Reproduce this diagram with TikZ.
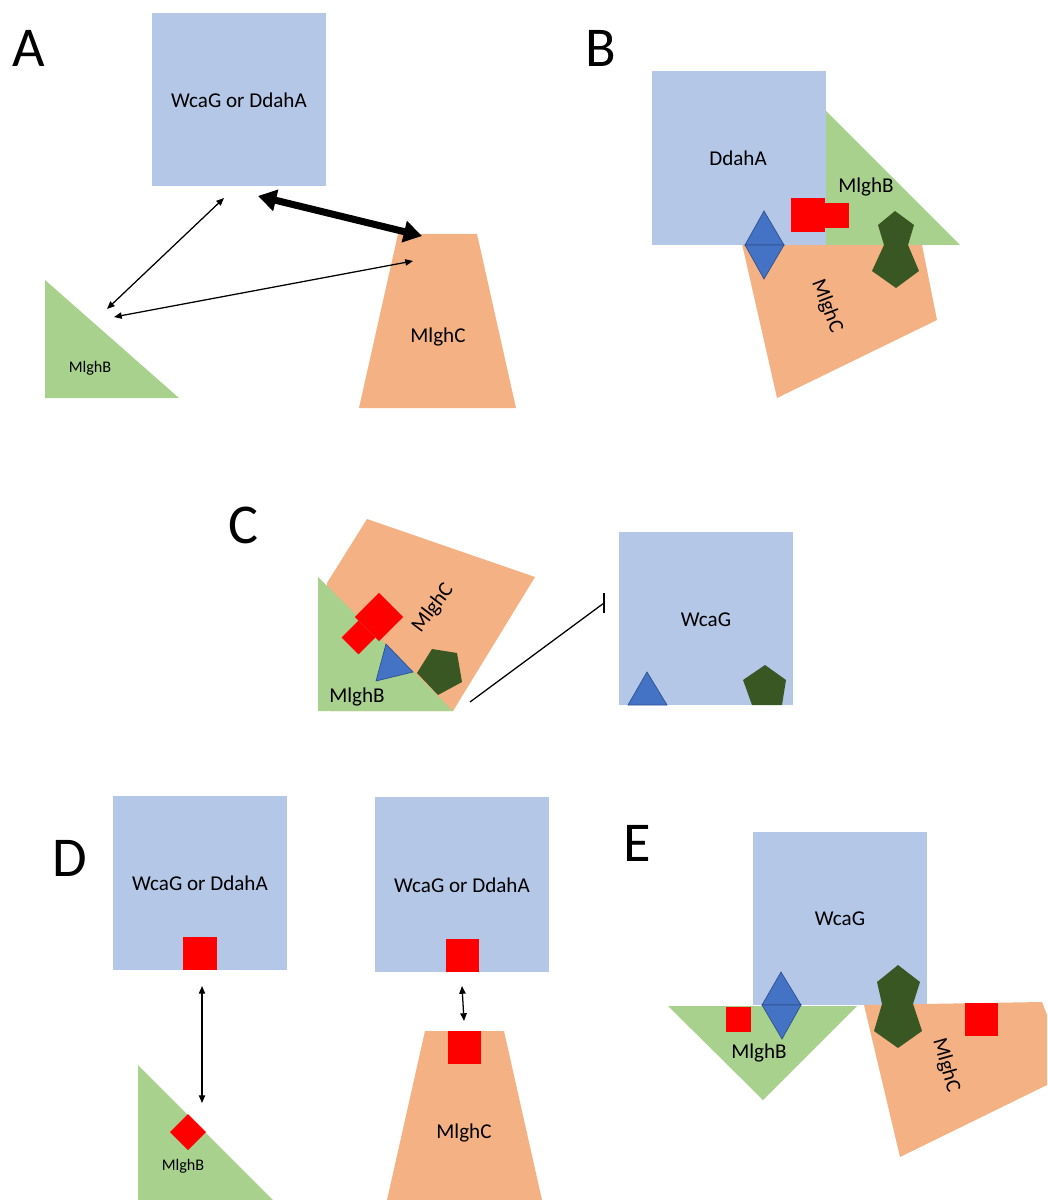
\documentclass[tikz,border=0pt]{standalone}
\usepackage{fontspec}
\setmainfont{Carlito}
\usetikzlibrary{arrows.meta}

\definecolor{protblue}{HTML}{B4C7E7}
\definecolor{protgreen}{HTML}{A9D18E}
\definecolor{protorange}{HTML}{F4B183}
\definecolor{sitered}{HTML}{FF0000}
\definecolor{sitedkgreen}{HTML}{385723}
\definecolor{siteblue}{HTML}{4472C4}
\definecolor{siteblueline}{HTML}{2F528F}

\tikzset{
  wcag/.style={fill=protblue},
  mlghb/.style={fill=protgreen},
  mlghc/.style={fill=protorange},
  hotspot/.style={fill=sitered},
  pent/.style={fill=sitedkgreen},
  tri/.style={fill=siteblue, draw=siteblueline, line width=0.5pt},
  lbl/.style={font=\fontsize{15}{15}\selectfont, inner sep=0pt},
  small/.style={font=\fontsize{11.5}{11.5}\selectfont, inner sep=0pt},
  panel/.style={font=\fontsize{40}{40}\selectfont, inner sep=0pt},
  thin/.style={line width=0.9pt, {Triangle[length=5.5pt,width=4.5pt]}-{Triangle[length=5.5pt,width=4.5pt]}},
  fat/.style={line width=5pt, {Triangle[length=13pt,width=15pt]}-{Triangle[length=13pt,width=15pt]}}
}

\begin{document}
\begin{tikzpicture}[x=0.025cm,y=-0.025cm]
	\useasboundingbox (0,0) rectangle (1047,1200);

	% A
	\node[panel] (pa) at (29,48) {A};
	\fill[wcag] (152,13) rectangle (326,186);
	\node[lbl] (a-wcag) at (239,100) {WcaG or DdahA};
	\fill[mlghb] (45,280) -- (45,398) -- (179,398) -- cycle;
	\node[small] (a-b) at (90,368) {MlghB};
	\fill[mlghc] (398,234) -- (477,234) -- (516,408) -- (359,408) -- cycle;
	\node[lbl] (a-c) at (438,337) {MlghC};
	\coordinate (a1) at (258,196);
	\coordinate (a2) at (422,236);
	\coordinate (a3) at (224,198);
	\coordinate (a4) at (107,309);
	\coordinate (a5) at (114,317);
	\coordinate (a6) at (413,261);
	\draw[fat] (a1) -- (a2);
	\draw[thin] (a3) -- (a4);
	\draw[thin] (a5) -- (a6);

	% B
	\node[panel] (pb) at (601,48) {B};
	\fill[mlghc] (740,235) -- (920,235) -- (937,320) -- (777,398) -- cycle;
	\node[lbl, rotate=-69] (b-c) at (827,306) {MlghC};
	\fill[wcag] (652,71) rectangle (826,245);
	\node[lbl] (b-d) at (738,158) {DdahA};
	\fill[mlghb] (826,111) -- (826,245) -- (960,245) -- cycle;
	\node[lbl] (b-b) at (866,187) {MlghB};
	\fill[hotspot] (791,198) rectangle (825,232);
	\fill[hotspot] (825,203) rectangle (849,228);
	\filldraw[tri] (764,211) -- (745,245) -- (784,245) -- cycle;
	\filldraw[tri] (745,245) -- (764,279) -- (784,245) -- cycle;
	\fill[pent] (895,211) -- (914,225) -- (908,245) -- (884,245) -- (878,225) -- cycle;
	\fill[pent] (884,245) -- (908,245) -- (919,271) -- (896,288) -- (872,271) -- cycle;

	% C
	\node[panel] (pc) at (243,525) {C};
	\fill[mlghc] (367,519) -- (535,577) -- (453,711) -- (330,711) -- (327,583) -- cycle;
	\node[lbl, rotate=53] (c-c) at (433,608) {MlghC};
	\fill[mlghb] (318,577) -- (318,711) -- (453,711) -- cycle;
	\node[lbl] (c-b) at (357,697) {MlghB};
	\begin{scope}[shift={(379,617)}, rotate=-135]
		\fill[hotspot] (-17,-17) rectangle (17,17);
		\fill[hotspot] (17,-12) rectangle (41,12);
	\end{scope}
	\filldraw[tri] (386,644) -- (413,672) -- (376,681) -- cycle;
	\fill[pent] (432,649) -- (457,653) -- (462,682) -- (438,695) -- (417,673) -- cycle;
	\fill[wcag] (619,532) rectangle (793,705);
	\node[lbl] (c-w) at (706,620) {WcaG};
	\filldraw[tri] (628,705) -- (647,672) -- (667,705) -- cycle;
	\fill[pent] (765,665) -- (786,680) -- (782,705) -- (752,705) -- (743,680) -- cycle;
	\coordinate (c1) at (470,702);
	\coordinate (c2) at (604,603);
	\draw[line width=0.9pt] (c1) -- (c2);
	\draw[line width=0.9pt] (c2) ++(0,-10) -- ++(0,20);

	% D
	\node[panel] (pd) at (70,858) {D};
	\fill[wcag] (113,796) rectangle (287,970);
	\node[lbl] (d-w1) at (200,883) {WcaG or DdahA};
	\fill[hotspot] (183,937) rectangle (217,970);
	\fill[mlghb] (138,1065) -- (138,1200) -- (273,1200) -- cycle;
	\fill[hotspot] (188,1114) -- (206,1132) -- (188,1150) -- (170,1132) -- cycle;
	\node[small] (d-b) at (183,1166) {MlghB};
	\coordinate (d1) at (202,986);
	\coordinate (d2) at (202,1103);
	\draw[thin] (d1) -- (d2);
	\fill[wcag] (375,797) rectangle (549,972);
	\node[lbl] (d-w2) at (462,885) {WcaG or DdahA};
	\fill[hotspot] (446,939) rectangle (479,972);
	\fill[mlghc] (425,1031) -- (504,1031) -- (542,1200) -- (387,1200) -- cycle;
	\fill[hotspot] (448,1031) rectangle (481,1064);
	\node[lbl] (d-c) at (464,1133) {MlghC};
	\coordinate (d3) at (462,986);
	\coordinate (d4) at (464,1021);
	\draw[thin] (d3) -- (d4);

	% E
	\node[panel] (pe) at (637,843) {E};
	\fill[wcag] (753,832) rectangle (927,1005);
	\node[lbl] (e-w) at (840,919) {WcaG};
	\fill[mlghb] (668,1006) -- (857,1006) -- (763,1100) -- cycle;
	\fill[hotspot] (726,1007) rectangle (751,1032);
	\node[lbl] (e-b) at (759,1053) {MlghB};
	\filldraw[tri] (781,972) -- (762,1005) -- (801,1005) -- cycle;
	\filldraw[tri] (762,1005) -- (782,1039) -- (801,1005) -- cycle;
	\fill[mlghc] (864,1005) -- (1042,1002) -- (1047,1015) -- (1047,1085) -- (900,1157) -- cycle;
	\fill[hotspot] (965,1003) rectangle (998,1036);
	\node[lbl, rotate=-74] (e-c) at (946,1065) {MlghC};
	\fill[pent] (898,965) -- (920,982) -- (913,1004) -- (882,1004) -- (877,982) -- cycle;
	\fill[pent] (882,1004) -- (913,1004) -- (922,1031) -- (898,1048) -- (874,1031) -- cycle;
\end{tikzpicture}
\end{document}
